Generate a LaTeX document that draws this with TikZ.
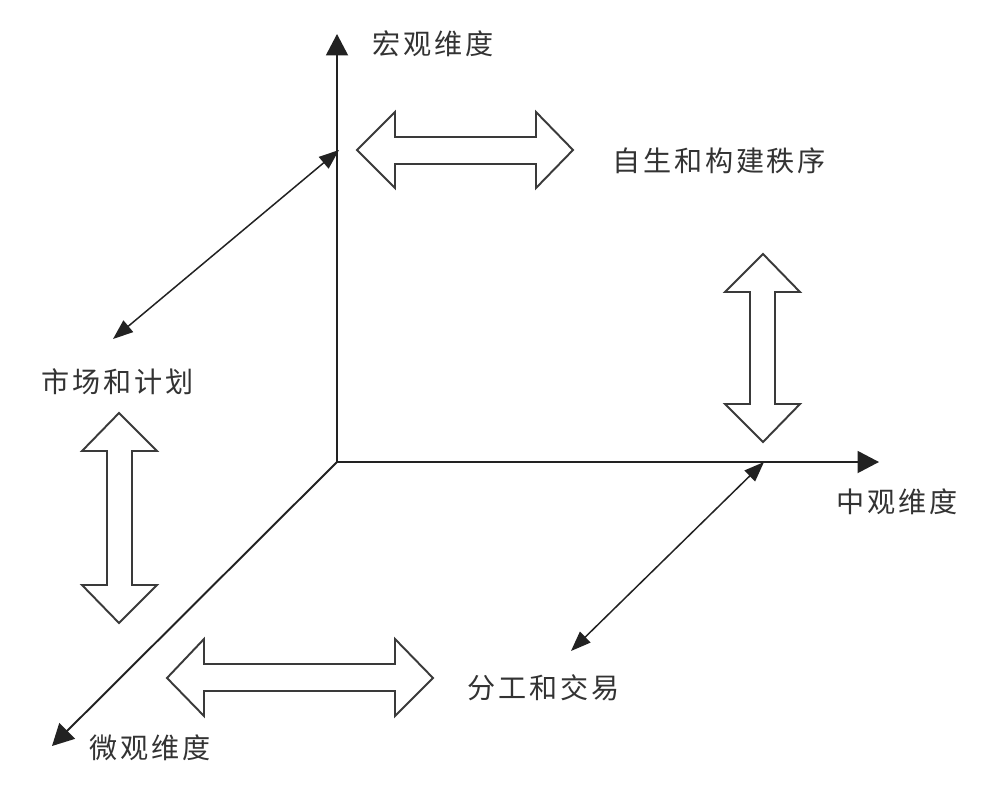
\documentclass[tikz,border=0pt]{standalone}
\usepackage{fontspec}
\usetikzlibrary{arrows.meta}
\newfontfamily\cjk[LetterSpace=10]{Noto Sans CJK SC}
\definecolor{ink}{HTML}{222222}
\definecolor{txt}{HTML}{333333}
\definecolor{blk}{HTML}{3A3A3A}
\begin{document}
\begin{tikzpicture}[x=0.02cm,y=-0.02cm,
  axis/.style={draw=ink,line width=1.1pt,-{Triangle[length=0.43cm,width=0.44cm]}},
  thinarrow/.style={draw=ink,line width=0.85pt,{Triangle[length=0.4cm,width=0.3cm]}-{Triangle[length=0.4cm,width=0.3cm]}},
  blockarrow/.style={draw=blk,line width=1.1pt,fill=white,line join=miter},
  lbl/.style={font=\cjk\fontsize{16pt}{19pt}\selectfont,text=txt,anchor=west,inner sep=0pt}]
\useasboundingbox (0,0) rectangle (1000,788);
\fill[white] (0,0) rectangle (1000,788);
% axes
\coordinate (O) at (337,462);
\coordinate (macroEnd) at (337,34);
\coordinate (mesoEnd) at (879,462);
\coordinate (microEnd) at (52,746);
\draw[axis] (O) -- (macroEnd);
\draw[axis] (O) -- (mesoEnd);
\draw[axis] (O) -- (microEnd);
% thin double arrows
\coordinate (t1a) at (113,339);
\coordinate (t1b) at (339,150);
\draw[thinarrow] (t1a) -- (t1b);
\coordinate (t2a) at (571,651);
\coordinate (t2b) at (764,462);
\draw[thinarrow] (t2a) -- (t2b);
% block arrows
\path[blockarrow] (357,150) -- (395,112) -- (395,137) -- (536,137) -- (536,112) -- (573,150) -- (536,188) -- (536,164) -- (395,164) -- (395,188) -- cycle;
\path[blockarrow] (167,678) -- (204,639) -- (204,664) -- (395,664) -- (395,639) -- (433,678) -- (395,716) -- (395,691) -- (204,691) -- (204,716) -- cycle;
\path[blockarrow] (763,254) -- (800,292) -- (775,292) -- (775,404) -- (800,404) -- (763,442) -- (725,404) -- (750,404) -- (750,292) -- (725,292) -- cycle;
\path[blockarrow] (119,413) -- (157,451) -- (132,451) -- (132,585) -- (157,585) -- (119,623) -- (82,585) -- (107,585) -- (107,451) -- (82,451) -- cycle;
% labels
\node[lbl] (macro) at (372,44) {宏观维度};
\node[lbl] (order) at (612,161) {自生和构建秩序};
\node[lbl] (meso) at (836,502) {中观维度};
\node[lbl] (market) at (41,382) {市场和计划};
\node[lbl] (micro) at (89,748) {微观维度};
\node[lbl] (labour) at (467,688) {分工和交易};
\end{tikzpicture}
\end{document}
